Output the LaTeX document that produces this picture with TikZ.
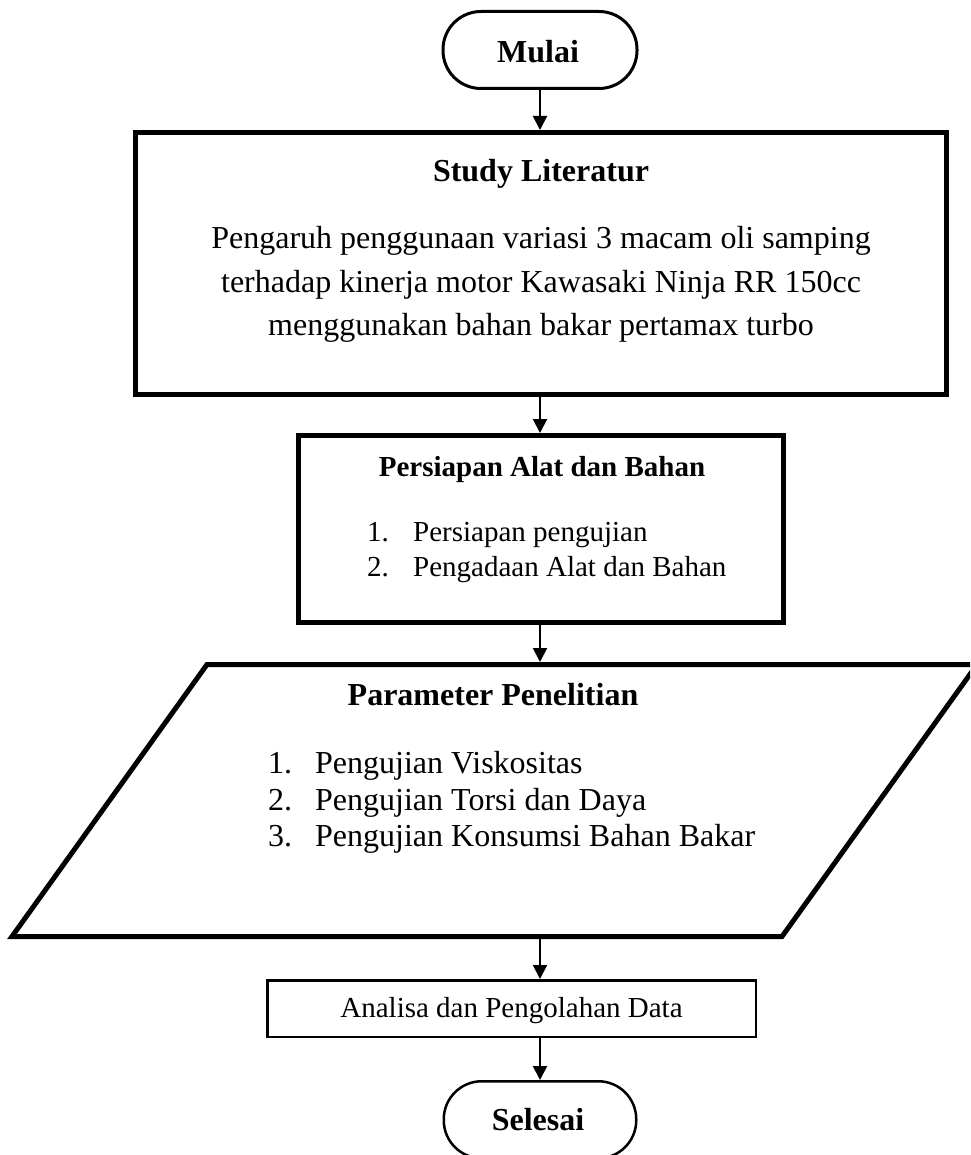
\documentclass[tikz,border=0pt]{standalone}
\usepackage{fontspec}
\setmainfont{Liberation Serif}
\usetikzlibrary{arrows.meta}
\begin{document}
\begin{tikzpicture}[x=1pt,y=-1pt,
  thickbox/.style={draw, line width=5pt, inner sep=0pt},
  thinbox/.style={draw, line width=2.5pt, inner sep=0pt},
  term/.style={draw, inner sep=0pt, rounded corners=38pt},
  flow/.style={line width=2pt, -{Triangle[length=14pt,width=14pt]}},
  txt/.style={inner sep=0pt, anchor=base, font=\fontsize{32}{37}\selectfont},
  txtb/.style={txt, font=\fontsize{32}{37}\selectfont\bfseries},
  stxt/.style={inner sep=0pt, anchor=base, font=\fontsize{29}{34}\selectfont},
  stxtb/.style={stxt, font=\fontsize{29}{34}\selectfont\bfseries},
  item/.style={txt, anchor=base west},
  sitem/.style={stxt, anchor=base west}
]
\useasboundingbox (0,0) rectangle (970,1155);
\clip (0,0) rectangle (970,1155);

% terminators
\node[term, line width=3pt, minimum width=194pt, minimum height=77pt] (mulai) at (540,50) {};
\node[txtb] (mulaitxt) at (538,63) {Mulai};

% literature study
\node[thickbox, minimum width=811pt, minimum height=262pt] (study) at (541,263.5) {};
\node[txtb] (studytitle) at (541,182) {Study Literatur};
\node[txt] (s1) at (541,249) {Pengaruh penggunaan variasi 3 macam oli samping};
\node[txt] (s2) at (541,292) {terhadap kinerja motor Kawasaki Ninja RR 150cc};
\node[txt] (s3) at (541,335) {menggunakan bahan bakar pertamax turbo};

% preparation
\node[thickbox, minimum width=485pt, minimum height=187pt] (prep) at (541,529) {};
\node[stxtb] (preptitle) at (542,476) {Persiapan Alat dan Bahan};
\node[sitem] (p1n) at (367,541) {1.};
\node[sitem] (p1) at (413,541) {Persiapan pengujian};
\node[sitem] (p2n) at (367,576) {2.};
\node[sitem] (p2) at (413,576) {Pengadaan Alat dan Bahan};

% research parameters (parallelogram)
\draw[line width=5pt, line join=miter] (207,664.5) -- (977,664.5) -- (782,936.5) -- (12,936.5) -- cycle;
\coordinate (partop) at (540,662);
\coordinate (parbot) at (540,939);
\node[txtb] (partitle) at (493,705) {Parameter Penelitian};
\node[item] (r1n) at (268,773) {1.};
\node[item] (r1) at (315,773) {Pengujian Viskositas};
\node[item] (r2n) at (268,810) {2.};
\node[item] (r2) at (315,810) {Pengujian Torsi dan Daya};
\node[item] (r3n) at (268,846) {3.};
\node[item] (r3) at (315,846) {Pengujian Konsumsi Bahan Bakar};

% analysis
\node[thinbox, minimum width=488.5pt, minimum height=56.5pt] (anal) at (511.5,1008.5) {};
\node[stxt] (analtxt) at (511.5,1017) {Analisa dan Pengolahan Data};

\node[term, line width=2.5pt, minimum width=192.5pt, minimum height=77pt] (selesai) at (540,1119.75) {};
\node[txtb] (selesaitxt) at (538,1130) {Selesai};

% connectors
\draw[flow] (mulai.south) -- (mulai.south |- study.north);
\draw[flow] (study.south -| mulai.south) -- (mulai.south |- prep.north);
\draw[flow] (prep.south -| mulai.south) -- (partop);
\draw[flow] (parbot) -- (parbot |- anal.north);
\draw[flow] (anal.south -| selesai.north) -- (selesai.north);
\end{tikzpicture}
\end{document}
